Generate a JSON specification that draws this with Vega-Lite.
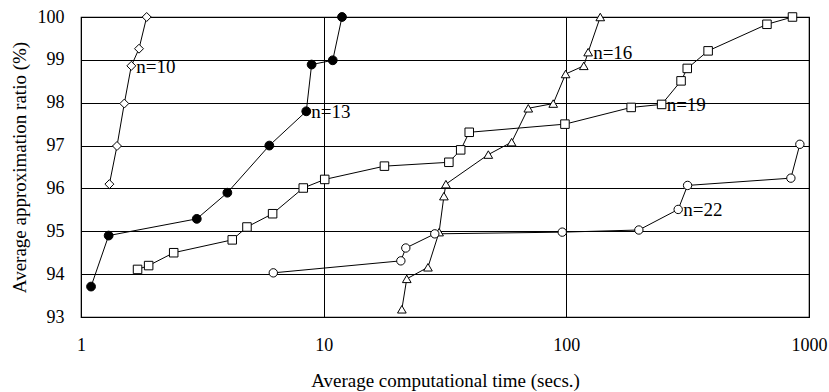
{
  "$schema": "https://vega.github.io/schema/vega-lite/v6.json",
  "width": 728,
  "height": 300,
  "autosize": "none",
  "padding": {"left": 81, "top": 17, "right": 20, "bottom": 75},
  "background": "white",
  "config": {
    "font": "Liberation Serif",
    "view": {"stroke": "black", "strokeWidth": 1.2},
    "axis": {
      "labelFont": "Liberation Serif",
      "titleFont": "Liberation Serif",
      "labelColor": "black",
      "titleColor": "black",
      "labelFontSize": 18,
      "titleFontSize": 19,
      "titleFontWeight": "normal",
      "ticks": false,
      "domain": false,
      "gridColor": "black",
      "gridOpacity": 1,
      "gridWidth": 1
    }
  },
  "datasets": {
    "pts": [
      {"n": "n=10", "t": 1.309, "r": 96.10},
      {"n": "n=10", "t": 1.407, "r": 96.99},
      {"n": "n=10", "t": 1.508, "r": 97.98},
      {"n": "n=10", "t": 1.612, "r": 98.86},
      {"n": "n=10", "t": 1.734, "r": 99.26},
      {"n": "n=10", "t": 1.865, "r": 100.0},
      {"n": "n=13", "t": 1.10, "r": 93.71},
      {"n": "n=13", "t": 1.30, "r": 94.90},
      {"n": "n=13", "t": 3.00, "r": 95.29},
      {"n": "n=13", "t": 4.01, "r": 95.90},
      {"n": "n=13", "t": 5.97, "r": 97.00},
      {"n": "n=13", "t": 8.48, "r": 97.80},
      {"n": "n=13", "t": 8.92, "r": 98.89},
      {"n": "n=13", "t": 10.9, "r": 98.99},
      {"n": "n=13", "t": 11.9, "r": 100.0},
      {"n": "n=16", "t": 21.0, "r": 93.18},
      {"n": "n=16", "t": 22.0, "r": 93.89},
      {"n": "n=16", "t": 26.9, "r": 94.16},
      {"n": "n=16", "t": 29.9, "r": 94.98},
      {"n": "n=16", "t": 31.3, "r": 95.82},
      {"n": "n=16", "t": 31.9, "r": 96.10},
      {"n": "n=16", "t": 47.7, "r": 96.79},
      {"n": "n=16", "t": 59.5, "r": 97.08},
      {"n": "n=16", "t": 69.7, "r": 97.87},
      {"n": "n=16", "t": 88.3, "r": 97.98},
      {"n": "n=16", "t": 99.3, "r": 98.67},
      {"n": "n=16", "t": 118, "r": 98.86},
      {"n": "n=16", "t": 123, "r": 99.18},
      {"n": "n=16", "t": 138, "r": 100.0},
      {"n": "n=19", "t": 1.71, "r": 94.11},
      {"n": "n=19", "t": 1.90, "r": 94.20},
      {"n": "n=19", "t": 2.41, "r": 94.50},
      {"n": "n=19", "t": 4.20, "r": 94.80},
      {"n": "n=19", "t": 4.83, "r": 95.10},
      {"n": "n=19", "t": 6.16, "r": 95.41},
      {"n": "n=19", "t": 8.24, "r": 96.01},
      {"n": "n=19", "t": 10.1, "r": 96.21},
      {"n": "n=19", "t": 17.8, "r": 96.52},
      {"n": "n=19", "t": 32.8, "r": 96.61},
      {"n": "n=19", "t": 36.7, "r": 96.90},
      {"n": "n=19", "t": 39.8, "r": 97.31},
      {"n": "n=19", "t": 98.7, "r": 97.50},
      {"n": "n=19", "t": 185, "r": 97.89},
      {"n": "n=19", "t": 247, "r": 97.96},
      {"n": "n=19", "t": 297, "r": 98.51},
      {"n": "n=19", "t": 315, "r": 98.80},
      {"n": "n=19", "t": 384, "r": 99.21},
      {"n": "n=19", "t": 671, "r": 99.83},
      {"n": "n=19", "t": 855, "r": 100.0},
      {"n": "n=22", "t": 6.20, "r": 94.03},
      {"n": "n=22", "t": 20.8, "r": 94.31},
      {"n": "n=22", "t": 21.8, "r": 94.61},
      {"n": "n=22", "t": 28.7, "r": 94.94},
      {"n": "n=22", "t": 96.2, "r": 94.98},
      {"n": "n=22", "t": 199, "r": 95.03},
      {"n": "n=22", "t": 289, "r": 95.51},
      {"n": "n=22", "t": 316, "r": 96.07},
      {"n": "n=22", "t": 842, "r": 96.24},
      {"n": "n=22", "t": 917, "r": 97.03}
    ],
    "labels": [
      {"label": "n=10", "t": 1.612, "r": 98.86},
      {"label": "n=13", "t": 8.48, "r": 97.80},
      {"label": "n=16", "t": 123, "r": 99.18},
      {"label": "n=19", "t": 247, "r": 97.96},
      {"label": "n=22", "t": 289, "r": 95.51}
    ]
  },
  "layer": [
    {
      "data": {"name": "pts"},
      "mark": {"type": "line", "color": "black", "strokeWidth": 1},
      "encoding": {
        "x": {
          "field": "t", "type": "quantitative",
          "scale": {"type": "log", "domain": [1, 1000]},
          "axis": {
            "values": [1, 10, 100, 1000],
            "format": "d",
            "grid": true,
            "labelPadding": 19,
            "titlePadding": 17,
            "labelFlush": false,
            "title": "Average computational time (secs.)"
          }
        },
        "y": {
          "field": "r", "type": "quantitative",
          "scale": {"domain": [93, 100], "nice": false, "zero": false},
          "axis": {
            "values": [93, 94, 95, 96, 97, 98, 99, 100],
            "grid": true,
            "labelPadding": 17,
            "titlePadding": 8,
            "title": "Average approximation ratio (%)"
          }
        },
        "detail": {"field": "n"}
      }
    },
    {
      "data": {"name": "pts"},
      "mark": {"type": "point", "filled": true, "stroke": "black", "strokeWidth": 1, "opacity": 1},
      "encoding": {
        "x": {"field": "t", "type": "quantitative", "scale": {"type": "log", "domain": [1, 1000]}},
        "y": {"field": "r", "type": "quantitative", "scale": {"domain": [93, 100], "nice": false, "zero": false}},
        "shape": {
          "field": "n", "type": "nominal",
          "scale": {"domain": ["n=10", "n=13", "n=16", "n=19", "n=22"], "range": ["diamond", "circle", "triangle-up", "square", "circle"]},
          "legend": null
        },
        "fill": {
          "field": "n", "type": "nominal",
          "scale": {"domain": ["n=10", "n=13", "n=16", "n=19", "n=22"], "range": ["white", "black", "white", "white", "white"]},
          "legend": null
        },
        "size": {
          "field": "n", "type": "nominal",
          "scale": {"domain": ["n=10", "n=13", "n=16", "n=19", "n=22"], "range": [80, 70, 80, 95, 75]},
          "legend": null
        }
      }
    },
    {
      "data": {"name": "labels"},
      "mark": {"type": "text", "align": "left", "baseline": "middle", "dx": 5, "dy": 1, "fontSize": 19, "font": "Liberation Serif", "color": "black"},
      "encoding": {
        "x": {"field": "t", "type": "quantitative", "scale": {"type": "log", "domain": [1, 1000]}},
        "y": {"field": "r", "type": "quantitative", "scale": {"domain": [93, 100], "nice": false, "zero": false}},
        "text": {"field": "label"}
      }
    }
  ]
}
